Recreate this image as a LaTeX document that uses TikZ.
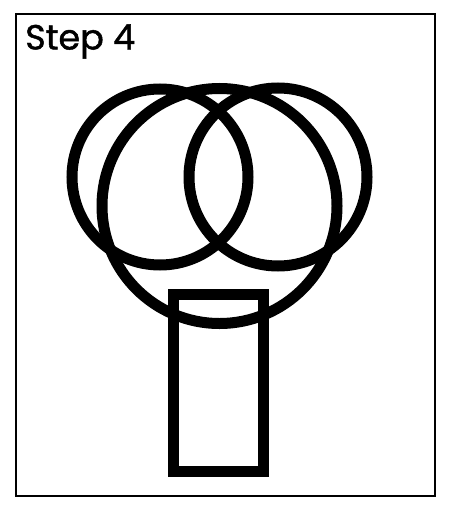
\documentclass[tikz,border=0pt]{standalone}
\usepackage{fontspec}
\setmainfont{Poppins}
\newfontfamily\captionfont[FakeBold=1.2]{Poppins}

\begin{document}
\begin{tikzpicture}[x=1pt,y=-1pt]

        \useasboundingbox (0,0) rectangle (450,511);

        % frame and caption
        \draw[line width=2pt] (16,14.5) rectangle (435,495.5);
        \node[anchor=base west,inner sep=0pt,font=\captionfont\fontsize{35}{35}\selectfont] (title) at (25,49.5) {Step 4};

        \begin{scope}[every node/.style={draw,line width=11pt,inner sep=0pt}]
          \node[circle,minimum size=176pt] (leftring)  at (160,177)   {};
          \node[circle,minimum size=178pt] (rightring) at (278,177)   {};
          \node[circle,minimum size=235pt] (bigring)   at (219.5,206) {};
          \node[rectangle,minimum width=90pt,minimum height=177pt] (trunk) at (218.5,383) {};
        \end{scope}

      \end{tikzpicture}
\end{document}
